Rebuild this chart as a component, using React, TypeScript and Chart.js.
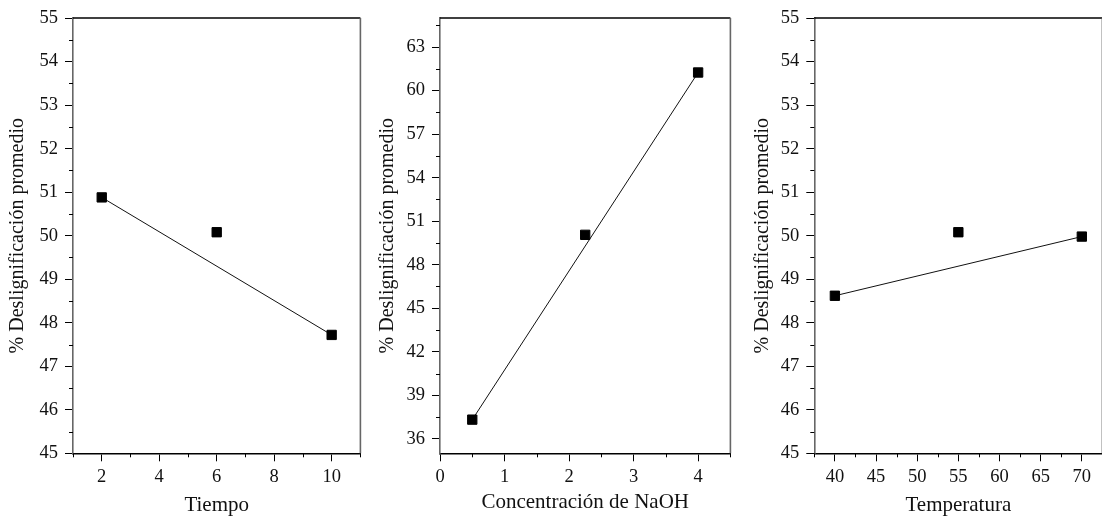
import React, { useEffect, useRef } from "react";
import { Chart, registerables } from "chart.js";

Chart.register(...registerables);

const FONT = '"Liberation Serif", "Times New Roman", Times, serif';
const Y_TITLE = "% Deslignificación promedio";

// Tiempo
const tiempo = [2, 6, 10];
const deslignTiempo = [50.88, 50.08, 47.72];
const tiempoTicks = [2, 4, 6, 8, 10];
const tiempoMinor = [1, 3, 5, 7, 9, 11];
const pctTicks = [45, 46, 47, 48, 49, 50, 51, 52, 53, 54, 55];
const pctMinor = [45.5, 46.5, 47.5, 48.5, 49.5, 50.5, 51.5, 52.5, 53.5, 54.5];

// Concentración de NaOH
const naoh = [0.5, 2.25, 4];
const deslignNaoh = [37.32, 50.06, 61.25];
const naohTicks = [0, 1, 2, 3, 4];
const naohMinor = [0.5, 1.5, 2.5, 3.5, 4.5];
const naohPctTicks = [36, 39, 42, 45, 48, 51, 54, 57, 60, 63];
const naohPctMinor = [37.5, 40.5, 43.5, 46.5, 49.5, 52.5, 55.5, 58.5, 61.5, 64.5];

// Temperatura
const temperatura = [40, 55, 70];
const deslignTemp = [48.62, 50.08, 49.98];
const tempTicks = [40, 45, 50, 55, 60, 65, 70];
const tempMinor = [37.5, 42.5, 47.5, 52.5, 57.5, 62.5, 67.5, 72.5];

const CANVAS_H = 523;
const PLOT_TOP = 15;
const PLOT_BOTTOM = 453.3;

// Minor tick marks plus the top/right frame of the plot box
const frameAndMinor = {
  id: "frameAndMinor",
  afterDraw(chart: any, _args: any, opts: any) {
    const { ctx, chartArea } = chart;
    const xs = chart.scales.x;
    const ys = chart.scales.y;
    ctx.save();
    ctx.lineWidth = 1;
    ctx.strokeStyle = "#000";
    ctx.beginPath();
    (opts.x || []).forEach((v: number) => {
      const px = Math.round(xs.getPixelForValue(v)) + 0.5;
      ctx.moveTo(px, chartArea.bottom);
      ctx.lineTo(px, chartArea.bottom + 4);
    });
    (opts.y || []).forEach((v: number) => {
      const py = Math.round(ys.getPixelForValue(v)) + 0.5;
      ctx.moveTo(chartArea.left, py);
      ctx.lineTo(chartArea.left - 4, py);
    });
    ctx.stroke();
    ctx.beginPath();
    ctx.lineWidth = 1.5;
    ctx.moveTo(chartArea.left, chartArea.top);
    ctx.lineTo(chartArea.right, chartArea.top);
    ctx.stroke();
    ctx.beginPath();
    ctx.strokeStyle = "#666";
    ctx.lineWidth = 1.6;
    ctx.moveTo(chartArea.right, chartArea.top);
    ctx.lineTo(chartArea.right, chartArea.bottom);
    ctx.stroke();
    ctx.restore();
  },
};

type PanelProps = {
  xs: number[];
  ys: number[];
  xMin: number;
  xMax: number;
  xTicks: number[];
  xMinor: number[];
  yMin: number;
  yMax: number;
  yTicks: number[];
  yMinor: number[];
  xTitle: string;
  left: number;
  width: number;
  yAxisWidth: number;
  yTitlePad: number;
  xTitlePad: number;
  padRight: number;
};

function Panel(p: PanelProps) {
  const ref = useRef<HTMLCanvasElement | null>(null);

  useEffect(() => {
    if (!ref.current) return;
    const points = p.xs.map((x, i) => ({ x, y: p.ys[i] }));
    const last = p.xs.length - 1;
    const trend = [
      { x: p.xs[0], y: p.ys[0] },
      { x: p.xs[last], y: p.ys[last] },
    ];
    const tickFont = { family: FONT, size: 18.5 };
    const xTitleFont = { family: FONT, size: 21 };
    const yTitleFont = { family: FONT, size: 20 };

    const chart = new Chart(ref.current, {
      type: "scatter",
      data: {
        datasets: [
          {
            data: points,
            pointStyle: "rect",
            pointRadius: 6.6,
            pointBackgroundColor: "#000",
            pointBorderColor: "#000",
            pointBorderWidth: 1,
            showLine: false,
          },
          {
            data: trend,
            showLine: true,
            pointRadius: 0,
            borderColor: "#111",
            borderWidth: 1,
          },
        ],
      },
      options: {
        animation: false,
        responsive: false,
        devicePixelRatio: 1,
        layout: { padding: { top: PLOT_TOP, right: p.padRight, left: 0, bottom: 0 } },
        plugins: {
          legend: { display: false },
          tooltip: { enabled: false },
          frameAndMinor: { x: p.xMinor, y: p.yMinor },
        } as any,
        scales: {
          x: {
            type: "linear",
            min: p.xMin,
            max: p.xMax,
            afterBuildTicks: (s: any) => {
              s.ticks = p.xTicks.map((value) => ({ value }));
            },
            afterFit: (s: any) => {
              s.height = CANVAS_H - PLOT_BOTTOM;
            },
            ticks: {
              font: tickFont,
              color: "#111",
              padding: 5,
              maxRotation: 0,
              autoSkip: false,
              callback: (v: any) => String(v),
            },
            grid: {
              display: true,
              drawOnChartArea: false,
              drawTicks: true,
              tickLength: 8,
              tickColor: "#000",
              color: "#000",
            },
            border: { display: true, color: "#000", width: 1.5 },
            title: {
              display: true,
              text: p.xTitle,
              font: xTitleFont,
              color: "#111",
              padding: { top: 0, bottom: p.xTitlePad },
            },
          },
          y: {
            type: "linear",
            min: p.yMin,
            max: p.yMax,
            afterBuildTicks: (s: any) => {
              s.ticks = p.yTicks.map((value) => ({ value }));
            },
            afterFit: (s: any) => {
              s.width = p.yAxisWidth;
            },
            ticks: {
              font: tickFont,
              color: "#111",
              padding: 7,
              autoSkip: false,
              callback: (v: any) => String(v),
            },
            grid: {
              display: true,
              drawOnChartArea: false,
              drawTicks: true,
              tickLength: 8,
              tickColor: "#000",
              color: "#000",
            },
            border: { display: true, color: "#666", width: 1.6 },
            title: {
              display: true,
              text: Y_TITLE,
              font: yTitleFont,
              color: "#111",
              padding: { top: p.yTitlePad, bottom: 0 },
            },
          },
        },
      },
      plugins: [frameAndMinor],
    } as any);

    return () => chart.destroy();
  }, []);

  return (
    <div style={{ position: "absolute", left: p.left, top: 0, width: p.width, height: CANVAS_H }}>
      <canvas ref={ref} width={p.width} height={CANVAS_H} style={{ display: "block" }} />
    </div>
  );
}

export default function App() {
  return (
    <div
      style={{
        position: "absolute",
        left: 0,
        top: 0,
        width: 1102,
        height: CANVAS_H,
        overflow: "hidden",
        background: "#fff",
      }}
    >
      <Panel
        xs={tiempo}
        ys={deslignTiempo}
        xMin={1}
        xMax={11}
        xTicks={tiempoTicks}
        xMinor={tiempoMinor}
        yMin={45}
        yMax={55}
        yTicks={pctTicks}
        yMinor={pctMinor}
        xTitle="Tiempo"
        left={0}
        width={368}
        yAxisWidth={73}
        yTitlePad={5.5}
        xTitlePad={4.9}
        padRight={5}
      />
      <Panel
        xs={naoh}
        ys={deslignNaoh}
        xMin={0}
        xMax={4.5}
        xTicks={naohTicks}
        xMinor={naohMinor}
        yMin={35}
        yMax={65}
        yTicks={naohPctTicks}
        yMinor={naohPctMinor}
        xTitle="Concentración de NaOH"
        left={370}
        width={368}
        yAxisWidth={70}
        yTitlePad={5.5}
        xTitlePad={8.4}
        padRight={4.7}
      />
      <Panel
        xs={temperatura}
        ys={deslignTemp}
        xMin={37.5}
        xMax={72.5}
        xTicks={tempTicks}
        xMinor={tempMinor}
        yMin={45}
        yMax={55}
        yTicks={pctTicks}
        yMinor={pctMinor}
        xTitle="Temperatura"
        left={740}
        width={370}
        yAxisWidth={74.3}
        yTitlePad={10.5}
        xTitlePad={4.9}
        padRight={5.9}
      />
    </div>
  );
}
